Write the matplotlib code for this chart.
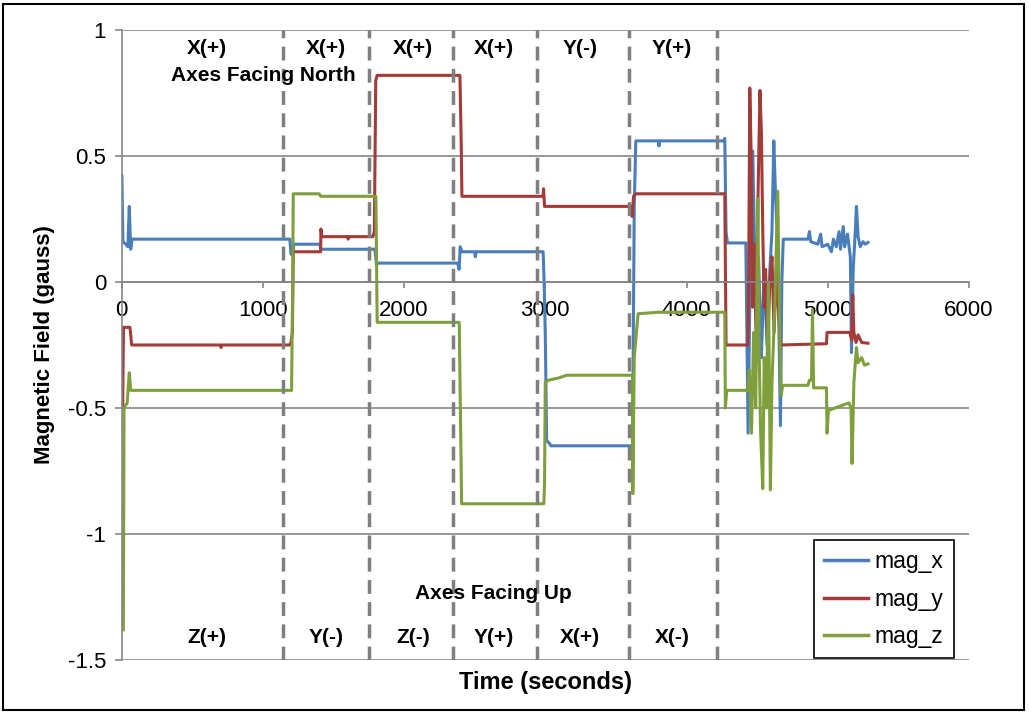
import matplotlib
matplotlib.use("Agg")
import matplotlib.pyplot as plt
from matplotlib.patches import Rectangle

plt.rcParams['font.family'] = ['Liberation Sans', 'DejaVu Sans']

# ---- dados (tempo em s, campo em gauss) ----
t_x = [3, 10, 30, 45, 55, 65, 75, 1192, 1200, 1215, 1220, 1405, 1410, 1794, 1805, 1815,
       2380, 2390, 2398, 2410, 2500, 2505, 2510, 2985, 2992, 3000, 3010, 3030, 3040,
       3618, 3630, 3641, 3800, 3805, 3810, 4264, 4271, 4280, 4290, 4420, 4436, 4450,
       4469, 4480, 4495, 4510, 4530, 4550, 4570, 4590, 4605, 4618, 4630, 4645, 4665,
       4675, 4685, 4860, 4870, 4880, 4930, 4950, 4960, 5000, 5026, 5040, 5060, 5080,
       5090, 5110, 5120, 5140, 5160, 5168, 5180, 5195, 5203, 5215, 5230, 5250, 5265, 5285]
mag_x = [0.42, 0.16, 0.15, 0.14, 0.30, 0.13, 0.17, 0.17, 0.11, 0.12, 0.15, 0.15, 0.13, 0.13, 0.07, 0.075,
         0.075, 0.05, 0.14, 0.12, 0.12, 0.10, 0.12, 0.12, 0.0, -0.2, -0.63, -0.64, -0.65,
         -0.65, 0.3, 0.56, 0.56, 0.54, 0.56, 0.56, 0.57, 0.2, 0.155, 0.155, -0.60, 0.0,
         0.52, 0.2, -0.2, 0.1, -0.3, 0.05, -0.25, 0.05, 0.2, 0.56, 0.35, 0.15, -0.57,
         0.0, 0.17, 0.17, 0.20, 0.16, 0.15, 0.19, 0.14, 0.15, 0.12, 0.17, 0.14, 0.20,
         0.13, 0.22, 0.14, 0.19, 0.10, -0.28, 0.05, 0.20, 0.30, 0.18, 0.14, 0.16, 0.15, 0.157]

t_y = [3, 8, 14, 60, 72, 700, 705, 710, 1190, 1200, 1210, 1216, 1410, 1412, 1418, 1600, 1605,
       1610, 1780, 1790, 1800, 1810, 2396, 2405, 2410, 2985, 2988, 2995, 3610, 3615, 3625,
       3641, 4271, 4280, 4434, 4440, 4448, 4458, 4468, 4478, 4495, 4505, 4520, 4530, 4540,
       4550, 4560, 4575, 4590, 4605, 4620, 4635, 4650, 4665, 4991, 4995, 5156, 5170, 5177,
       5185, 5200, 5215, 5240, 5285]
mag_y = [-0.18, -0.50, -0.18, -0.18, -0.25, -0.25, -0.26, -0.25, -0.25, -0.24, -0.20, 0.12, 0.12, 0.21, 0.18, 0.18, 0.17,
         0.18, 0.18, 0.20, 0.80, 0.82, 0.82, 0.55, 0.34, 0.34, 0.37, 0.30, 0.30, 0.26, 0.34,
         0.35, 0.35, -0.25, -0.25, 0.0, 0.77, 0.5, -0.1, 0.15, -0.25, 0.3, 0.76, 0.6, 0.2,
         -0.1, 0.05, -0.25, 0.0, 0.1, -0.2, 0.05, -0.1, -0.25, -0.245, -0.20, -0.20, -0.23, -0.05,
         -0.20, -0.24, -0.21, -0.24, -0.243]

t_z = [13, 18, 40, 55, 65, 1204, 1212, 1216, 1400, 1410, 1801, 1810, 2391, 2408, 2990, 2995,
       3000, 3020, 3100, 3150, 3618, 3620, 3630, 3657, 3800, 4271, 4275, 4285, 4434, 4445,
       4460, 4475, 4490, 4505, 4515, 4525, 4540, 4550, 4565, 4580, 4594, 4605, 4625, 4646,
       4660, 4670, 4681, 4860, 4870, 4885, 4892, 4900, 4991, 4995, 5005, 5050, 5100, 5150,
       5165, 5172, 5185, 5203, 5215, 5240, 5260, 5285]
mag_z = [-1.38, -0.50, -0.48, -0.36, -0.43, -0.43, 0.0, 0.35, 0.35, 0.34, 0.34, -0.16, -0.16, -0.88, -0.88, -0.80,
         -0.40, -0.39, -0.38, -0.37, -0.37, -0.84, -0.30, -0.126, -0.12, -0.12, -0.50, -0.43, -0.43, -0.35,
         -0.6, -0.2, -0.5, 0.33, -0.3, -0.6, -0.82, -0.3, -0.5, 0.0, -0.825, -0.4, -0.1, 0.36,
         -0.2, -0.45, -0.41, -0.41, -0.39, -0.39, -0.11, -0.42, -0.42, -0.60, -0.51, -0.50, -0.49, -0.48,
         -0.50, -0.72, -0.40, -0.26, -0.32, -0.30, -0.33, -0.325]

# linhas tracejadas que separam as orientações
divisoes = [1145, 1754, 2344, 2945, 3594, 4219]

# rótulos das orientações (x, texto)
rotulos_cima = [(605, 'X(+)'), (1447, 'X(+)'), (2063, 'X(+)'), (2636, 'X(+)'), (3245, 'Y(-)'), (3896, 'Y(+)')]
rotulos_baixo = [(605, 'Z(+)'), (1447, 'Y(-)'), (2063, 'Z(-)'), (2636, 'Y(+)'), (3245, 'X(+)'), (3896, 'X(-)')]

# ---- figura ----
fig = plt.figure(figsize=(10.29, 7.14), dpi=100)
ax = fig.add_axes([121.5 / 1029, 1 - 660 / 714, (969 - 121.5) / 1029, 630 / 714])

cinza = '#868686'
ax.plot(t_x, mag_x, color='#4A7EBB', lw=2.2, label='mag_x')
ax.plot(t_y, mag_y, color='#A33B39', lw=2.2, label='mag_y')
ax.plot(t_z, mag_z, color='#7F9F3C', lw=2.2, label='mag_z')

for d in divisoes:
    ax.axvline(d, color='#7F7F7F', lw=2.5, dashes=(4, 2.4), zorder=3)

for x, txt in rotulos_cima:
    ax.text(x, 0.925, txt, ha='center', va='center', fontsize=15, fontweight='bold', zorder=4)
for x, txt in rotulos_baixo:
    ax.text(x, -1.409, txt, ha='center', va='center', fontsize=15, fontweight='bold', zorder=4)
ax.text(1001, 0.82, 'Axes Facing North', ha='center', va='center', fontsize=15, fontweight='bold', zorder=4)
ax.text(2636, -1.238, 'Axes Facing Up', ha='center', va='center', fontsize=15, fontweight='bold', zorder=4)

ax.set_xlim(0, 6000)
ax.set_ylim(-1.5, 1)
ax.set_xticks(range(0, 6001, 1000))
ax.set_yticks([-1.5, -1, -0.5, 0, 0.5, 1])
ax.set_yticklabels(['-1.5', '-1', '-0.5', '0', '0.5', '1'])

ax.grid(True, axis='y', color=cinza, lw=1.2)
for s in ['top', 'right']:
    ax.spines[s].set_visible(False)
ax.spines['left'].set_color(cinza)
ax.spines['left'].set_linewidth(1.2)
ax.spines['bottom'].set_position(('data', 0))
ax.spines['bottom'].set_color(cinza)
ax.spines['bottom'].set_linewidth(1.2)
ax.tick_params(axis='x', direction='out', length=4, width=1.2, color=cinza, labelsize=16, pad=9)
ax.tick_params(axis='y', direction='out', length=5, width=1.2, color=cinza, labelsize=16, pad=6)

ax.set_ylabel('Magnetic Field (gauss)', fontsize=16, fontweight='bold')
ax.yaxis.set_label_coords(-0.078, 0.5)
ax.set_xlabel('Time (seconds)', fontsize=17, fontweight='bold')
ax.xaxis.set_label_coords(0.5, -0.018)

leg = ax.legend(loc='lower right', bbox_to_anchor=(0.982, 0.003), fontsize=16.5, frameon=True,
                fancybox=False, edgecolor='black', framealpha=1, borderaxespad=0,
                handlelength=1.9, handletextpad=0.3, labelspacing=0.62, borderpad=0.45)
leg.get_frame().set_linewidth(1.2)
leg.set_zorder(5)
for h in leg.get_lines():
    h.set_linewidth(2.5)

# moldura externa do gráfico
fig.patches.append(Rectangle((3 / 1029, 4 / 714), 1021 / 1029, 706 / 714, transform=fig.transFigure,
                             fill=False, edgecolor='black', lw=1.5))

fig.savefig('out.png', dpi=100)
